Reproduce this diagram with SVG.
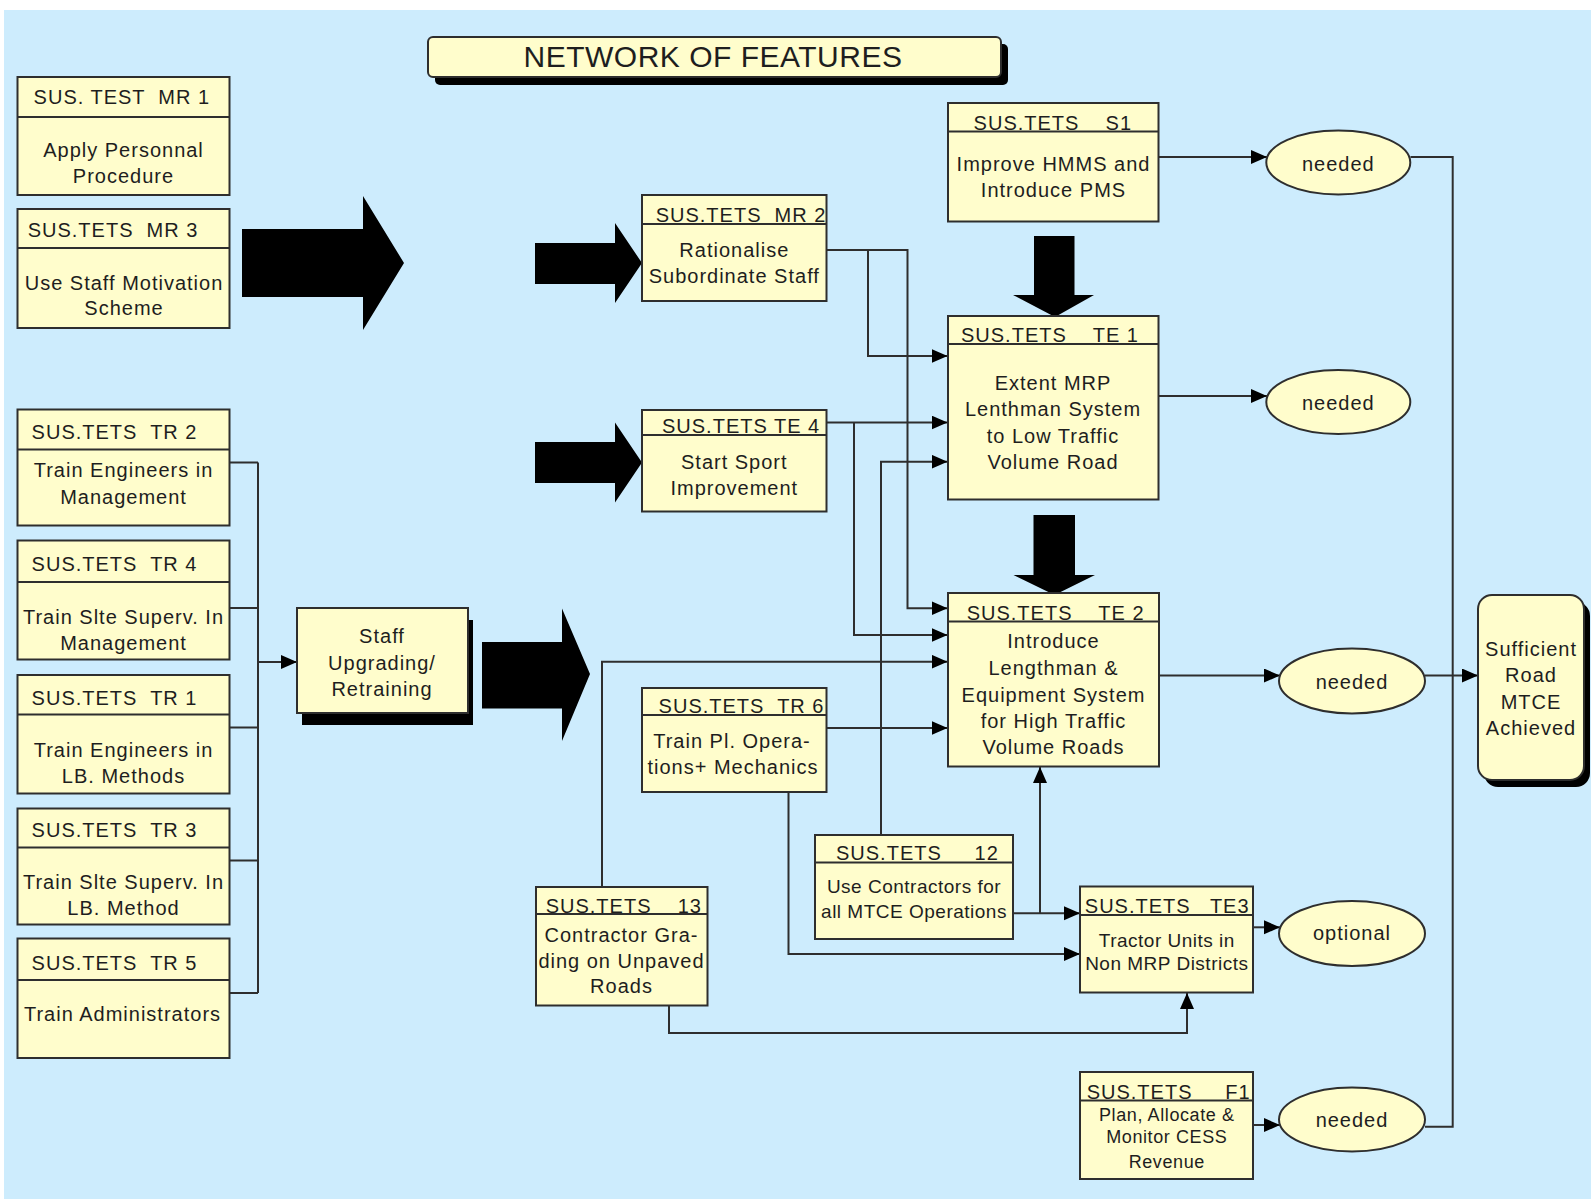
<svg xmlns="http://www.w3.org/2000/svg" width="1591" height="1199" viewBox="0 0 1591 1199">
<defs>
<style>
.bg{fill:#cdecfd}
.box{fill:#fffdcc;stroke:#2e2e2e;stroke-width:2}
.hl{stroke:#2e2e2e;stroke-width:2}
.sh{fill:#000}
.big{fill:#000}
.ln{fill:none;stroke:#2e2e2e;stroke-width:2}
.t{font-family:"Liberation Sans",Arial,sans-serif;font-size:20px;letter-spacing:1px;fill:#1e1e1e;white-space:pre}
.c{text-anchor:middle}
.s19{font-size:19px;letter-spacing:0.5px}
.s18{font-size:18px;letter-spacing:0.6px}
.title{font-size:30px;letter-spacing:0.5px}
</style>
<marker id="ah" markerUnits="userSpaceOnUse" markerWidth="17" markerHeight="15" refX="16" refY="7" orient="auto">
<path d="M0,0 L16,7 L0,14 z" fill="#000"/>
</marker>
</defs>
<rect x="0" y="0" width="1591" height="1199" fill="#ffffff"/>
<rect class="bg" x="4" y="10" width="1587" height="1189"/>

<g id="title">
<rect class="sh" x="435" y="44" width="573" height="41" rx="5"/>
<rect class="box" x="428" y="37" width="573" height="40" rx="5"/>
<text class="t c title" x="713" y="67">NETWORK OF FEATURES</text>
</g>

<g id="connectors">
<path class="ln" d="M229.5,462.4 H258 M229.5,608 H258 M229.5,727.4 H258 M229.5,860.5 H258 M229.5,993 H258 M258,462.4 V993"/>
<path class="ln" d="M258,662 H297" marker-end="url(#ah)"/>
<path class="ln" d="M826.5,250 H907.5 V608.3 H947.5" marker-end="url(#ah)"/>
<path class="ln" d="M868,250 V356 H947.5" marker-end="url(#ah)"/>
<path class="ln" d="M826.5,422.5 H947.5" marker-end="url(#ah)"/>
<path class="ln" d="M854,422.5 V635 H947.5" marker-end="url(#ah)"/>
<path class="ln" d="M881,835 V461.7 H947.5" marker-end="url(#ah)"/>
<path class="ln" d="M1013,913.3 H1080" marker-end="url(#ah)"/>
<path class="ln" d="M1040,913.3 V767" marker-end="url(#ah)"/>
<path class="ln" d="M602,887 V661.7 H947.5" marker-end="url(#ah)"/>
<path class="ln" d="M669,1005.7 V1033 H1187 V993" marker-end="url(#ah)"/>
<path class="ln" d="M826.5,728 H947.5" marker-end="url(#ah)"/>
<path class="ln" d="M788.5,792 V954 H1080" marker-end="url(#ah)"/>
<path class="ln" d="M1158.6,157 H1267" marker-end="url(#ah)"/>
<path class="ln" d="M1158.6,396 H1267" marker-end="url(#ah)"/>
<path class="ln" d="M1159,675.5 H1280" marker-end="url(#ah)"/>
<path class="ln" d="M1253,927.3 H1280" marker-end="url(#ah)"/>
<path class="ln" d="M1253,1125 H1280" marker-end="url(#ah)"/>
<path class="ln" d="M1410.5,157 H1452.7 V1126.7 H1425"/>
<path class="ln" d="M1425,675.5 H1478" marker-end="url(#ah)"/>
</g>

<g id="bigarrows">
<polygon class="big" points="242,229 363,229 363,196 404,263 363,330 363,297 242,297"/>
<polygon class="big" points="535,243 615,243 615,223 642,263 615,303 615,284 535,284"/>
<polygon class="big" points="535,442 615,442 615,422.5 642,462.5 615,502.5 615,483 535,483"/>
<polygon class="big" points="482,642 562,642 562,608.5 590,674 562,741 562,708.5 482,708.5"/>
<polygon class="big" points="1034,236 1074.5,236 1074.5,295 1094,295 1055,317 1013,295 1034,295"/>
<polygon class="big" points="1033.5,515 1075,515 1075,575 1095,575 1054.5,595 1013.5,575 1033.5,575"/>
</g>

<g id="mr1">
<rect class="box" x="17.5" y="77" width="212" height="118"/>
<line class="hl" x1="17.5" y1="117" x2="229.5" y2="117"/>
<text class="t" x="33.6" y="104">SUS. TEST  MR 1</text>
<text class="t c" x="123.5" y="157">Apply Personnal</text>
<text class="t c" x="123.5" y="183">Procedure</text>
</g>
<g id="mr3">
<rect class="box" x="17.5" y="209" width="212" height="119"/>
<line class="hl" x1="17.5" y1="248" x2="229.5" y2="248"/>
<text class="t" x="27.7" y="237">SUS.TETS  MR 3</text>
<text class="t c" x="124" y="290">Use Staff Motivation</text>
<text class="t c" x="124" y="315">Scheme</text>
</g>
<g id="tr2">
<rect class="box" x="17.5" y="409.5" width="212" height="116"/>
<line class="hl" x1="17.5" y1="449.5" x2="229.5" y2="449.5"/>
<text class="t" x="31.6" y="439">SUS.TETS  TR 2</text>
<text class="t c" x="123.5" y="477">Train Engineers in</text>
<text class="t c" x="123.5" y="503.5">Management</text>
</g>
<g id="tr4">
<rect class="box" x="17.5" y="540.5" width="212" height="119"/>
<line class="hl" x1="17.5" y1="582" x2="229.5" y2="582"/>
<text class="t" x="31.6" y="571">SUS.TETS  TR 4</text>
<text class="t c" x="123.5" y="624">Train Slte Superv. In</text>
<text class="t c" x="123.5" y="649.5">Management</text>
</g>
<g id="tr1">
<rect class="box" x="17.5" y="675" width="212" height="118.5"/>
<line class="hl" x1="17.5" y1="714.5" x2="229.5" y2="714.5"/>
<text class="t" x="31.6" y="704.5">SUS.TETS  TR 1</text>
<text class="t c" x="123.5" y="756.5">Train Engineers in</text>
<text class="t c" x="123.5" y="782.5">LB. Methods</text>
</g>
<g id="tr3">
<rect class="box" x="17.5" y="808.5" width="212" height="116"/>
<line class="hl" x1="17.5" y1="847.5" x2="229.5" y2="847.5"/>
<text class="t" x="31.6" y="837">SUS.TETS  TR 3</text>
<text class="t c" x="123.5" y="889">Train Slte Superv. In</text>
<text class="t c" x="123.5" y="915">LB. Method</text>
</g>
<g id="tr5">
<rect class="box" x="17.5" y="938.5" width="212" height="119.5"/>
<line class="hl" x1="17.5" y1="980" x2="229.5" y2="980"/>
<text class="t" x="31.6" y="970">SUS.TETS  TR 5</text>
<text class="t c" x="122.5" y="1021">Train Administrators</text>
</g>
<g id="staff">
<rect class="sh" x="302" y="620" width="171" height="105"/>
<rect class="box" x="297" y="608" width="171" height="105"/>
<text class="t c" x="382" y="643">Staff</text>
<text class="t c" x="382" y="670">Upgrading/</text>
<text class="t c" x="382" y="696">Retraining</text>
</g>
<g id="mr2">
<rect class="box" x="642" y="195" width="184.5" height="106"/>
<line class="hl" x1="642" y1="224" x2="826.5" y2="224"/>
<text class="t" x="655.7" y="221.5">SUS.TETS  MR 2</text>
<text class="t c" x="734.3" y="256.7">Rationalise</text>
<text class="t c" x="734.3" y="283.3">Subordinate Staff</text>
</g>
<g id="te4">
<rect class="box" x="642" y="410" width="184.5" height="101.5"/>
<line class="hl" x1="642" y1="435" x2="826.5" y2="435"/>
<text class="t" x="662" y="433">SUS.TETS TE 4</text>
<text class="t c" x="734.3" y="469.3">Start Sport</text>
<text class="t c" x="734.3" y="495">Improvement</text>
</g>
<g id="tr6">
<rect class="box" x="642" y="688" width="184.5" height="104"/>
<line class="hl" x1="642" y1="715" x2="826.5" y2="715"/>
<text class="t" x="658.6" y="713">SUS.TETS  TR 6</text>
<text class="t c" x="732" y="748.3">Train Pl. Opera-</text>
<text class="t c" x="733" y="774.3">tions+ Mechanics</text>
</g>
<g id="s1">
<rect class="box" x="948" y="103" width="210.5" height="118.5"/>
<line class="hl" x1="948" y1="131.5" x2="1158.5" y2="131.5"/>
<text class="t" x="973.6" y="129.5">SUS.TETS    S1</text>
<text class="t c" x="1053.5" y="170.7">Improve HMMS and</text>
<text class="t c" x="1053.5" y="196.7">Introduce PMS</text>
</g>
<g id="te1">
<rect class="box" x="948" y="316" width="210.5" height="183.5"/>
<line class="hl" x1="948" y1="344" x2="1158.5" y2="344"/>
<text class="t" x="961" y="341.5">SUS.TETS    TE 1</text>
<text class="t c" x="1053" y="390">Extent MRP</text>
<text class="t c" x="1053" y="416">Lenthman System</text>
<text class="t c" x="1053" y="442.7">to Low Traffic</text>
<text class="t c" x="1053" y="469.3">Volume Road</text>
</g>
<g id="te2">
<rect class="box" x="948" y="593" width="211" height="173.5"/>
<line class="hl" x1="948" y1="621.5" x2="1159" y2="621.5"/>
<text class="t" x="966.7" y="619.5">SUS.TETS    TE 2</text>
<text class="t c" x="1053.5" y="648.3">Introduce</text>
<text class="t c" x="1053.5" y="675">Lengthman &amp;</text>
<text class="t c" x="1053.5" y="701.7">Equipment System</text>
<text class="t c" x="1053.5" y="728.3">for High Traffic</text>
<text class="t c" x="1053.5" y="754.3">Volume Roads</text>
</g>
<g id="b12">
<rect class="box" x="815" y="835" width="198" height="104"/>
<line class="hl" x1="815" y1="862.5" x2="1013" y2="862.5"/>
<text class="t" x="836" y="859.5">SUS.TETS     12</text>
<text class="t c s19" x="914" y="893.3">Use Contractors for</text>
<text class="t c s19" x="914" y="918.3">all MTCE Operations</text>
</g>
<g id="b13">
<rect class="box" x="536" y="887" width="171.5" height="118.5"/>
<line class="hl" x1="536" y1="914" x2="707.5" y2="914"/>
<text class="t" x="545.7" y="912.5">SUS.TETS    13</text>
<text class="t c" x="621.5" y="941.7">Contractor Gra-</text>
<text class="t c" x="621.5" y="968.3">ding on Unpaved</text>
<text class="t c" x="621.5" y="993.3">Roads</text>
</g>
<g id="te3">
<rect class="box" x="1080" y="886.5" width="173" height="106"/>
<line class="hl" x1="1080" y1="915" x2="1253" y2="915"/>
<text class="t" x="1084.8" y="913">SUS.TETS   TE3</text>
<text class="t c s19" x="1166.8" y="947.3">Tractor Units in</text>
<text class="t c s19" x="1166.8" y="970">Non MRP Districts</text>
</g>
<g id="f1">
<rect class="box" x="1080" y="1072" width="173" height="107"/>
<line class="hl" x1="1080" y1="1100.5" x2="1253" y2="1100.5"/>
<text class="t" x="1086.7" y="1099">SUS.TETS     F1</text>
<text class="t c s18" x="1166.8" y="1121">Plan, Allocate &amp;</text>
<text class="t c s18" x="1166.8" y="1142.7">Monitor CESS</text>
<text class="t c s18" x="1166.8" y="1168.3">Revenue</text>
</g>
<g id="e1">
<ellipse class="box" cx="1338.3" cy="162.5" rx="72" ry="32"/>
<text class="t c" x="1338.3" y="170.5">needed</text>
</g>
<g id="e2">
<ellipse class="box" cx="1338.3" cy="402" rx="72" ry="32"/>
<text class="t c" x="1338.3" y="410">needed</text>
</g>
<g id="e3">
<ellipse class="box" cx="1352" cy="681" rx="73" ry="32.5"/>
<text class="t c" x="1352" y="689">needed</text>
</g>
<g id="e4">
<ellipse class="box" cx="1352" cy="933.5" rx="73" ry="32.5"/>
<text class="t c" x="1352" y="940">optional</text>
</g>
<g id="e5">
<ellipse class="box" cx="1352" cy="1119.5" rx="73" ry="32"/>
<text class="t c" x="1352" y="1127">needed</text>
</g>
<g id="sufficient">
<rect class="sh" x="1484" y="602" width="106" height="185" rx="14"/>
<rect class="box" x="1478" y="595" width="106" height="185" rx="14"/>
<text class="t c" x="1531" y="656">Sufficient</text>
<text class="t c" x="1531" y="682.4">Road</text>
<text class="t c" x="1531" y="709">MTCE</text>
<text class="t c" x="1531" y="735">Achieved</text>
</g>
</svg>
